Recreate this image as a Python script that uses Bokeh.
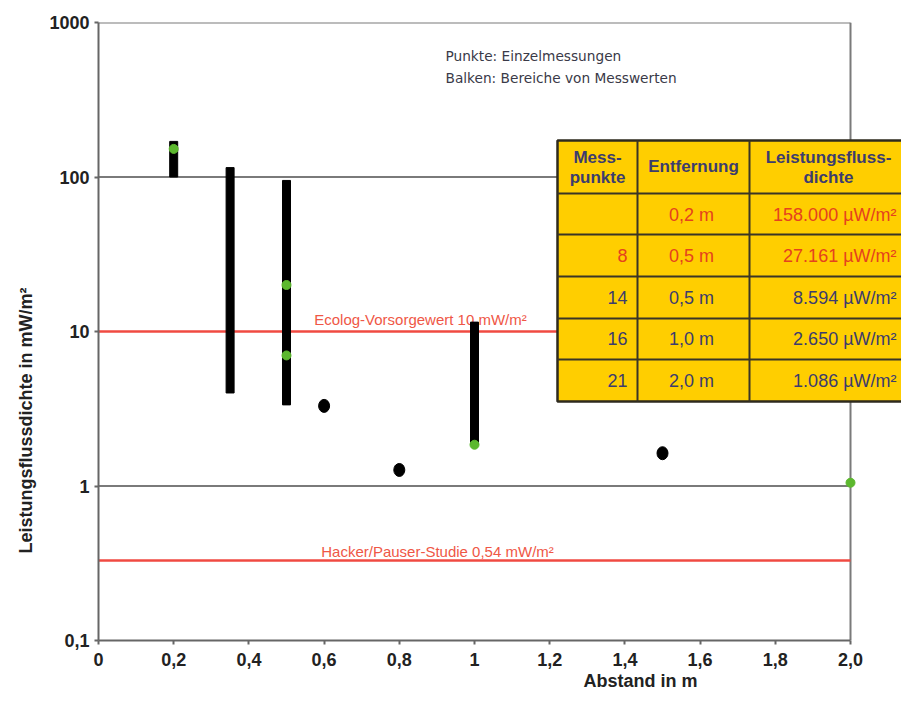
import math
from bokeh.plotting import figure
from bokeh.models import Range1d, FixedTicker, CustomJSTickFormatter, Title
from bokeh.core.properties import value
from bokeh.embed import file_html
from bokeh.resources import INLINE

# ---------------- data ----------------
x_tick_values = [0, 0.2, 0.4, 0.6, 0.8, 1.0, 1.2, 1.4, 1.6, 1.8, 2.0]
x_tick_labels = ["0", "0,2", "0,4", "0,6", "0,8", "1", "1,2", "1,4", "1,6", "1,8", "2,0"]
y_tick_values = [0.1, 1, 10, 100, 1000]
y_tick_labels = ["0,1", "1", "10", "100", "1000"]

# Balken: Bereiche von Messwerten (mW/m2)
range_x = [0.2, 0.35, 0.5, 1.0]
range_low = [100, 4.0, 3.35, 1.85]
range_high = [170, 115, 95, 11.5]

# Punkte: Einzelmessungen (schwarz)
single_x = [0.6, 0.8, 1.5]
single_y = [3.3, 1.27, 1.63]

# Tabellenwerte (grün)
green_x = [0.2, 0.5, 0.5, 1.0, 2.0]
green_y = [152, 20, 7.0, 1.85, 1.05]

# Grenzwert-Linien
limit_values = [10, 0.33]
limit_labels = ["Ecolog-Vorsorgewert 10 mW/m²", "Hacker/Pauser-Studie 0,54 mW/m²"]

grid_values = [1, 100, 1000]

# Tabelle
table_header = [["Mess-", "punkte"], ["Entfernung"], ["Leistungsfluss-", "dichte"]]
table_messpunkte = ["", "8", "14", "16", "21"]
table_entfernung = ["0,2 m", "0,5 m", "0,5 m", "1,0 m", "2,0 m"]
table_leistung = ["158.000 µW/m²", "27.161 µW/m²", "8.594 µW/m²", "2.650 µW/m²", "1.086 µW/m²"]
table_highlight = [True, True, False, False, False]

notes = ["Punkte: Einzelmessungen", "Balken: Bereiche von Messwerten"]
x_title = "Abstand in m"
y_title = "Leistungsflussdichte in mW/m²"

# ---------------- layout ----------------
W, H = 901, 692
OFF = 0
FRAME_L, FRAME_T, FRAME_B = 98, 22, 640
PX_PER_UNIT = 376.0
PX_PER_DEC = (FRAME_B - FRAME_T) / 4.0
X_END = (W - FRAME_L) / PX_PER_UNIT


def dx(img_px):
    return (img_px - OFF - FRAME_L) / PX_PER_UNIT


def dy(img_py):
    return 10 ** (-1 + (FRAME_B - (img_py - OFF)) / PX_PER_DEC)


FONT = "Liberation Sans"
NAVY = "#3c3c6e"
RED_T = "#e5421e"
LIMIT_RED = "#f04a42"
GRID = "#7a7a7a"
AXIS = "#666666"

p = figure(width=W, height=H, y_axis_type="log",
           x_range=Range1d(0, X_END), y_range=Range1d(0.1, 1000),
           output_backend="svg", toolbar_location=None,
           min_border_left=FRAME_L, min_border_right=0,
           min_border_top=FRAME_T, min_border_bottom=H - FRAME_B)
p.outline_line_color = None
p.xgrid.visible = False
p.ygrid.visible = False
p.background_fill_color = "white"
p.border_fill_color = "white"

fmt_code = """
for (let i = 0; i < vals.length; i++) {
  if (Math.abs(vals[i] - tick) < 1e-9 * Math.max(1, Math.abs(tick))) return labels[i];
}
return '';
"""

p.xaxis.ticker = FixedTicker(ticks=x_tick_values)
p.xaxis.formatter = CustomJSTickFormatter(args=dict(vals=x_tick_values, labels=x_tick_labels), code=fmt_code)
p.xaxis.bounds = (x_tick_values[0], x_tick_values[-1])
p.xaxis.major_label_standoff = 8

p.yaxis.ticker = FixedTicker(ticks=y_tick_values)
p.yaxis.formatter = CustomJSTickFormatter(args=dict(vals=y_tick_values, labels=y_tick_labels), code=fmt_code)
p.yaxis.major_label_standoff = 5

for ax in (p.xaxis[0], p.yaxis[0]):
    ax.axis_line_color = AXIS
    ax.axis_line_width = 2
    ax.major_tick_line_color = AXIS
    ax.major_tick_line_width = 2
    ax.major_tick_in = 0
    ax.major_tick_out = 4
    ax.minor_tick_line_color = None
    ax.major_label_text_font = FONT
    ax.major_label_text_font_style = "bold"
    ax.major_label_text_font_size = "18px"
    ax.major_label_text_color = "#222222"

x0, x1 = x_tick_values[0], x_tick_values[-1]
y0, y1 = y_tick_values[0], y_tick_values[-1]

# grid lines and right border
p.segment(x0=[x0] * len(grid_values), x1=[x1] * len(grid_values), y0=grid_values, y1=grid_values,
          line_color=GRID, line_width=2)
p.segment(x0=[x1], x1=[x1], y0=[y0], y1=[y1], line_color=GRID, line_width=2)

# limit lines
p.segment(x0=[x0] * 2, x1=[x1] * 2, y0=limit_values, y1=limit_values,
          line_color=LIMIT_RED, line_width=2.5)
p.text(x=[dx(420), dx(437)], y=[dy(319), dy(551)], text=limit_labels,
       text_font=value(FONT), text_font_size="15px", text_color="#ef5746",
       text_align="center", text_baseline="alphabetic")

# notes
p.text(x=[dx(445)] * 2, y=[dy(55), dy(77)], text=notes,
       text_font=value("DejaVu Sans"), text_font_size="13.7px", text_color="#3a3a48",
       text_align="left", text_baseline="middle")

# bars
p.vbar(x=range_x, bottom=range_low, top=range_high, width=8 / PX_PER_UNIT,
       fill_color="black", line_color="black")
# single points
p.ellipse(x=single_x, y=single_y, width=11, height=13, width_units="screen", height_units="screen",
          fill_color="black", line_color="black")
# green points
p.scatter(x=green_x, y=green_y, size=9, fill_color="#5cb82e", line_color="#5cb82e")

# ---------------- table ----------------
T_L, T_R, T_T, T_B = 557, 935, 140, 401
row_lines = [193, 234, 276, 318, 359]
col_lines = [637, 749]
p.quad(left=[dx(T_L)], right=[dx(T_R)], top=[dy(T_T)], bottom=[dy(T_B)],
       fill_color="#ffce00", line_color="#2e2a1e", line_width=2.5)
p.segment(x0=[dx(T_L)] * len(row_lines), x1=[dx(T_R)] * len(row_lines),
          y0=[dy(r) for r in row_lines], y1=[dy(r) for r in row_lines],
          line_color="#3a3526", line_width=2)
p.segment(x0=[dx(c) for c in col_lines], x1=[dx(c) for c in col_lines],
          y0=[dy(T_T)] * len(col_lines), y1=[dy(T_B)] * len(col_lines),
          line_color="#3a3526", line_width=2)

# header texts
hx = [597, 693, 828]
hdr_x, hdr_y, hdr_t = [], [], []
for cx, lines in zip(hx, table_header):
    ys = [157, 177] if len(lines) == 2 else [166]
    for t, yy in zip(lines, ys):
        hdr_x.append(dx(cx)); hdr_y.append(dy(yy)); hdr_t.append(t)
p.text(x=hdr_x, y=hdr_y, text=hdr_t, text_font=value(FONT), text_font_style="bold",
       text_font_size="17px", text_color=NAVY, text_align="center", text_baseline="middle")

row_centers = [214, 255, 297, 338, 380]
colors = [RED_T if h else NAVY for h in table_highlight]
ry = [dy(r) for r in row_centers]
p.text(x=[dx(627)] * 5, y=ry, text=table_messpunkte, text_color=colors,
       text_font=value(FONT), text_font_size="18px", text_align="right", text_baseline="middle")
p.text(x=[dx(691)] * 5, y=ry, text=table_entfernung, text_color=colors,
       text_font=value(FONT), text_font_size="18px", text_align="center", text_baseline="middle")
p.text(x=[dx(896)] * 5, y=ry, text=table_leistung, text_color=colors,
       text_font=value(FONT), text_font_size="18px", text_align="right", text_baseline="middle")

# ---------------- axis titles ----------------
p.add_layout(Title(text=y_title, align="left", offset=87, standoff=21,
                   text_font=FONT, text_font_style="bold", text_font_size="18px",
                   text_color="#222222"), "left")
p.add_layout(Title(text=x_title, align="left", offset=485, standoff=0,
                   text_font=FONT, text_font_style="bold", text_font_size="18px",
                   text_color="#222222"), "below")

open("out.html", "w").write(file_html(p, INLINE))
